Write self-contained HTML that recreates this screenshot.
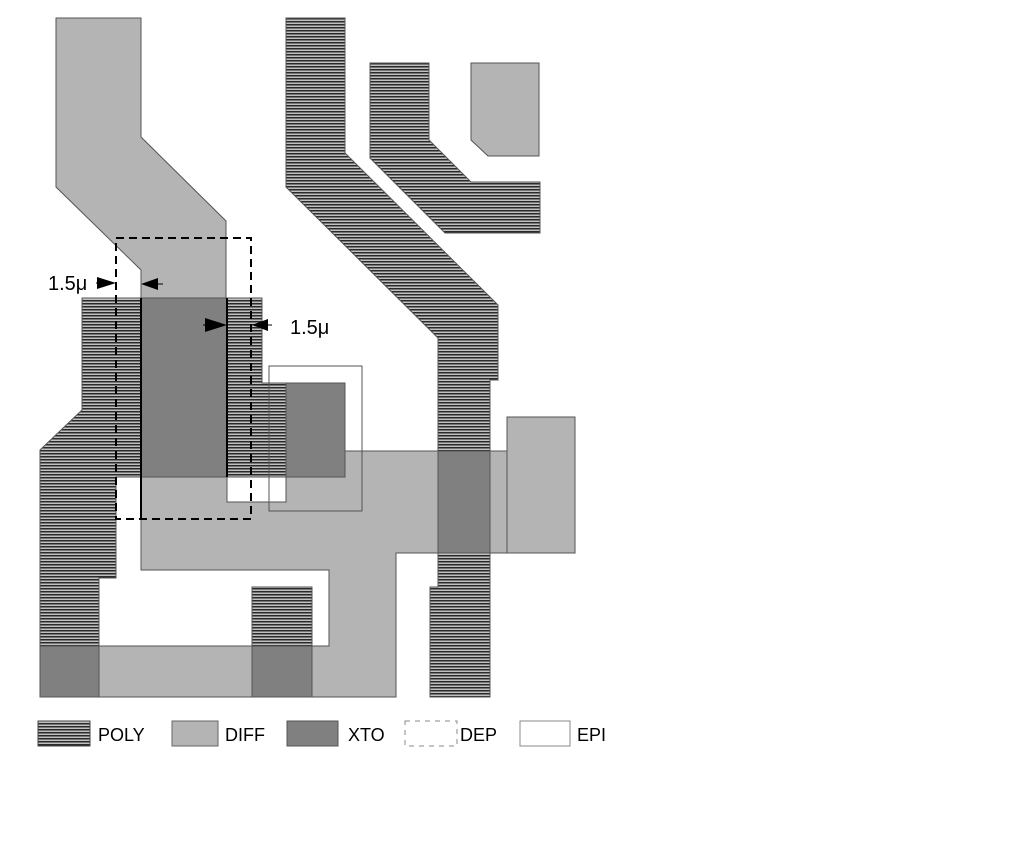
<!DOCTYPE html>
<html><head><style>html,body{margin:0;padding:0;background:#fff;}svg{display:block}</style></head><body>
<svg width="1025" height="846" viewBox="0 0 1025 846" xmlns="http://www.w3.org/2000/svg">
<defs>
<pattern id="p" width="8" height="3" patternUnits="userSpaceOnUse">
<rect width="8" height="3" fill="#c0c0c0"/><rect width="8" height="1.5" fill="#2a2a2a"/>
</pattern>
</defs>
<g stroke="#555" stroke-width="1">
<polygon fill="#b4b4b4" points="56,18 141,18 141,137 226,221 226,477 141,477 141,270 56,187"/>
<polygon fill="#b4b4b4" points="471,63 539,63 539,156 488,156 471,140"/>
<polygon fill="#b4b4b4" points="141,477 345,477 345,451 507,451 507,553 396,553 396,697 99,697 99,646 329,646 329,570 141,570"/>
<rect fill="#b4b4b4" x="507" y="417" width="68" height="136"/>
<polygon fill="url(#p)" points="286,18 345,18 345,153 498,305 498,380 490,380 490,697 430,697 430,587 438,587 438,338 286,187"/>
<polygon fill="url(#p)" points="370,63 429,63 429,140 471,182 540,182 540,233 445,233 370,158"/>
<polygon fill="url(#p)" points="82,298 262,298 262,383 286,383 286,477 116,477 116,578 99,578 99,697 40,697 40,450 82,410"/>
<rect fill="url(#p)" x="252" y="587" width="60" height="110"/>
<rect fill="#808080" x="141" y="298" width="86" height="179"/>
<rect fill="#808080" x="286" y="383" width="59" height="94"/>
<rect fill="#808080" x="40" y="646" width="59" height="51"/>
<rect fill="#808080" x="252" y="646" width="60" height="51"/>
<rect fill="#808080" x="438" y="451" width="52" height="102"/>
</g>
<rect x="227" y="477" width="59" height="25" fill="#fff" stroke="#555"/>
<rect x="269" y="366" width="93" height="145" fill="none" stroke="#555"/>
<line x1="141" y1="298" x2="141" y2="519" stroke="#000" stroke-width="2"/>
<line x1="227" y1="298" x2="227" y2="477" stroke="#000" stroke-width="2"/>
<rect x="116" y="238" width="135" height="281" fill="none" stroke="#000" stroke-width="2" stroke-dasharray="8,5"/>
<g fill="#000" stroke="#000">
<line x1="96" y1="283" x2="110" y2="283"/><polygon points="116,283 97,277 97,289" stroke="none"/>
<line x1="148" y1="284" x2="163" y2="284"/><polygon points="141,284 158,278 158,290" stroke="none"/>
<line x1="203" y1="325" x2="215" y2="325"/><polygon points="227,325 205,318 205,332" stroke="none"/>
<line x1="258" y1="325" x2="272" y2="325"/><polygon points="252,325 268,319 268,331" stroke="none"/>
</g>
<g font-family="Liberation Sans, sans-serif" fill="#000">
<text x="48" y="290" font-size="20">1.5μ</text>
<text x="290" y="334" font-size="20">1.5μ</text>
<g font-size="18">
<text x="98" y="741">POLY</text>
<text x="225" y="741">DIFF</text>
<text x="348" y="741">XTO</text>
<text x="460" y="741">DEP</text>
<text x="577" y="741">EPI</text>
</g>
</g>
<rect x="38" y="721" width="52" height="25" fill="url(#p)" stroke="#444"/>
<rect x="172" y="721" width="46" height="25" fill="#b4b4b4" stroke="#666"/>
<rect x="287" y="721" width="51" height="25" fill="#808080" stroke="#555"/>
<rect x="405" y="721" width="52" height="25" fill="none" stroke="#888" stroke-dasharray="5,5"/>
<rect x="520" y="721" width="50" height="25" fill="#fff" stroke="#888"/>
</svg>
</body></html>
